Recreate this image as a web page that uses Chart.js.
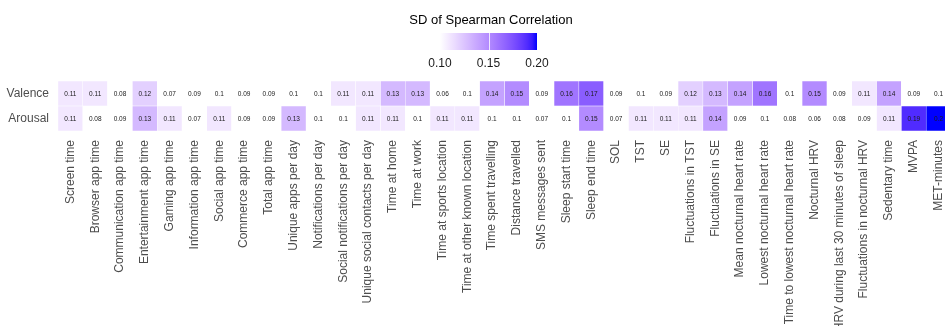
<!DOCTYPE html>
<html>
<head>
<meta charset="utf-8">
<script src="https://cdn.jsdelivr.net/npm/chart.js@4"></script>
<style>
  html, body { margin: 0; padding: 0; background: #fff; overflow: hidden; }
  #wrap { width: 951px; height: 326px; }
</style>
</head>
<body>
<div id="wrap"><canvas id="c" width="951" height="326"></canvas></div>
<script>
const features = [
  'Screen time', 'Browser app time', 'Communication app time', 'Entertainment app time',
  'Gaming app time', 'Information app time', 'Social app time', 'Commerce app time',
  'Total app time', 'Unique apps per day', 'Notifications per day', 'Social notifications per day',
  'Unique social contacts per day', 'Time at home', 'Time at work', 'Time at sports location',
  'Time at other known location', 'Time spent travelling', 'Distance travelled', 'SMS messages sent',
  'Sleep start time', 'Sleep end time', 'SOL', 'TST', 'SE', 'Fluctuations in TST',
  'Fluctuations in SE', 'Mean nocturnal heart rate', 'Lowest nocturnal heart rate',
  'Time to lowest nocturnal heart rate', 'Nocturnal HRV', 'HRV during last 30 minutes of sleep',
  'Fluctuations in nocturnal HRV', 'Sedentary time', 'MVPA', 'MET-minutes'
];
const valence = [0.11, 0.11, 0.08, 0.12, 0.07, 0.09, 0.1, 0.09, 0.09, 0.1, 0.1, 0.11,
                 0.11, 0.13, 0.13, 0.06, 0.1, 0.14, 0.15, 0.09, 0.16, 0.17, 0.09, 0.1,
                 0.09, 0.12, 0.13, 0.14, 0.16, 0.1, 0.15, 0.09, 0.11, 0.14, 0.09, 0.1];
const arousal = [0.11, 0.08, 0.09, 0.13, 0.11, 0.07, 0.11, 0.09, 0.09, 0.13, 0.1, 0.1,
                 0.11, 0.11, 0.1, 0.11, 0.11, 0.1, 0.1, 0.07, 0.1, 0.15, 0.07, 0.11,
                 0.11, 0.11, 0.14, 0.09, 0.1, 0.08, 0.06, 0.08, 0.09, 0.11, 0.19, 0.2];
const rowNames = ['Arousal', 'Valence'];      // bottom to top
const rowValues = [arousal, valence];
const colorLimits = [0.10, 0.20];
const legendTicks = [0.10, 0.15, 0.20];
const legendTitle = 'SD of Spearman Correlation';

// --- colour: Lab interpolation white -> blue (like ggplot scale_fill_gradient)
function srgbToLin(c) { c /= 255; return c <= 0.04045 ? c / 12.92 : Math.pow((c + 0.055) / 1.055, 2.4); }
function linToSrgb(c) { c = Math.max(0, Math.min(1, c)); return 255 * (c <= 0.0031308 ? 12.92 * c : 1.055 * Math.pow(c, 1 / 2.4) - 0.055); }
const WX = 0.95047, WY = 1.0, WZ = 1.08883;
function rgbToLab(r, g, b) {
  const R = srgbToLin(r), G = srgbToLin(g), B = srgbToLin(b);
  const X = (0.4124 * R + 0.3576 * G + 0.1805 * B) / WX;
  const Y = (0.2126 * R + 0.7152 * G + 0.0722 * B) / WY;
  const Z = (0.0193 * R + 0.1192 * G + 0.9505 * B) / WZ;
  const f = t => t > 0.008856 ? Math.cbrt(t) : (7.787 * t + 16 / 116);
  const fx = f(X), fy = f(Y), fz = f(Z);
  return [116 * fy - 16, 500 * (fx - fy), 200 * (fy - fz)];
}
function labToRgb(L, a, b) {
  const fy = (L + 16) / 116, fx = fy + a / 500, fz = fy - b / 200;
  const fi = t => t * t * t > 0.008856 ? t * t * t : (t - 16 / 116) / 7.787;
  const X = fi(fx) * WX, Y = fi(fy) * WY, Z = fi(fz) * WZ;
  const R = 3.2406 * X - 1.5372 * Y - 0.4986 * Z;
  const G = -0.9689 * X + 1.8758 * Y + 0.0415 * Z;
  const B = 0.0557 * X - 0.2040 * Y + 1.0570 * Z;
  return [linToSrgb(R), linToSrgb(G), linToSrgb(B)].map(Math.round);
}
const LOW = rgbToLab(255, 255, 255), HIGH = rgbToLab(0, 0, 255);
function fillFor(v) {
  let t = (v - colorLimits[0]) / (colorLimits[1] - colorLimits[0]);
  t = Math.max(0, Math.min(1, t));
  const c = labToRgb(LOW[0] + (HIGH[0] - LOW[0]) * t, LOW[1] + (HIGH[1] - LOW[1]) * t, LOW[2] + (HIGH[2] - LOW[2]) * t);
  return `rgb(${c[0]},${c[1]},${c[2]})`;
}

const FONT = "'Liberation Sans', Arial, sans-serif";

const datasets = rowNames.map((name, r) => ({
  label: name,
  data: features.map(() => 1),           // each tile is one row-unit tall
  values: rowValues[r],
  backgroundColor: rowValues[r].map(fillFor),
  borderColor: '#ffffff',
  borderWidth: 0.5,
  borderSkipped: false,
  barPercentage: 1.0,
  categoryPercentage: 1.0
}));

const cellLabels = {
  id: 'cellLabels',
  afterDatasetsDraw(chart) {
    const ctx = chart.ctx;
    ctx.save();
    ctx.font = `6.5px ${FONT}`;
    ctx.fillStyle = '#1a1a1a';
    ctx.textAlign = 'center';
    ctx.textBaseline = 'middle';
    chart.data.datasets.forEach((ds, di) => {
      const meta = chart.getDatasetMeta(di);
      meta.data.forEach((el, i) => {
        ctx.fillText(String(ds.values[i]), el.x, (el.y + el.base) / 2 + 0.5);
      });
    });
    ctx.restore();
  }
};

const colorbar = {
  id: 'colorbar',
  afterDraw(chart) {
    const ctx = chart.ctx;
    const x0 = 440, x1 = 537, y0 = 33, y1 = 50;
    ctx.save();
    ctx.font = `13px ${FONT}`;
    ctx.fillStyle = '#000';
    ctx.textAlign = 'center';
    ctx.textBaseline = 'middle';
    ctx.fillText(legendTitle, 491, 20);
    const g = ctx.createLinearGradient(x0, 0, x1, 0);
    for (let k = 0; k <= 20; k++) {
      const v = colorLimits[0] + (colorLimits[1] - colorLimits[0]) * k / 20;
      g.addColorStop(k / 20, fillFor(v));
    }
    ctx.fillStyle = g;
    ctx.fillRect(x0, y0, x1 - x0, y1 - y0);
    ctx.font = `12px ${FONT}`;
    ctx.fillStyle = '#1a1a1a';
    legendTicks.forEach(v => {
      const x = x0 + (v - colorLimits[0]) / (colorLimits[1] - colorLimits[0]) * (x1 - x0);
      if (x > x0 + 1 && x < x1 - 1) {
        ctx.strokeStyle = 'rgba(255,255,255,0.8)';
        ctx.lineWidth = 1;
        ctx.beginPath();
        ctx.moveTo(Math.round(x) + 0.5, y0);
        ctx.lineTo(Math.round(x) + 0.5, y1);
        ctx.stroke();
      }
      ctx.fillText(v.toFixed(2), x, 64);
    });
    ctx.restore();
  }
};

new Chart(document.getElementById('c'), {
  type: 'bar',
  data: { labels: features, datasets },
  plugins: [cellLabels, colorbar],
  options: {
    responsive: false,
    animation: false,
    events: [],
    layout: { padding: { top: 81, right: 0, bottom: 0, left: 0 } },
    plugins: { legend: { display: false }, tooltip: { enabled: false } },
    scales: {
      x: {
        stacked: true,
        grid: { display: false, drawTicks: false },
        border: { display: false },
        ticks: {
          autoSkip: false, minRotation: 90, maxRotation: 90, padding: 9,
          color: '#4d4d4d', font: { family: FONT, size: 12 }
        },
        afterFit(s) { s.height = 195; s.paddingLeft = 0; s.paddingRight = 0; }
      },
      y: {
        stacked: true,
        min: 0, max: rowNames.length,
        grid: { display: false, drawTicks: false },
        border: { display: false },
        afterBuildTicks(s) { s.ticks = rowNames.map((n, i) => ({ value: i + 0.5 })); },
        ticks: {
          padding: 9, color: '#4d4d4d', font: { family: FONT, size: 12 },
          callback(value) { return rowNames[Math.floor(value)]; }
        },
        afterFit(s) { s.width = 58; }
      }
    }
  }
});
</script>
</body>
</html>
